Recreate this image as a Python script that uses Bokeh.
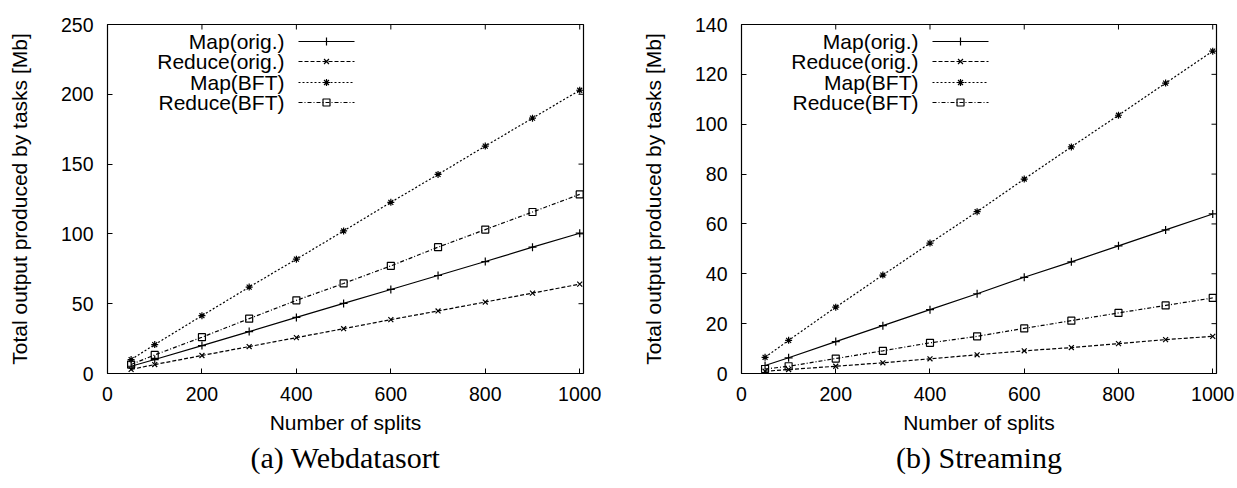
from bokeh.plotting import figure
from bokeh.layouts import row
from bokeh.models import Range1d, FixedTicker, Title
from bokeh.embed import file_html
from bokeh.resources import INLINE
from bokeh.core.properties import value

# ---- data -------------------------------------------------------------
splits = [50, 100, 200, 300, 400, 500, 600, 700, 800, 900, 1000]
x_ticks = [0, 200, 400, 600, 800, 1000]
series_names = ["Map(orig.)", "Reduce(orig.)", "Map(BFT)", "Reduce(BFT)"]

# (a) Webdatasort, output in Mb
wds_map_orig = [5.2, 10, 20, 30, 40.2, 50.2, 60.2, 70.2, 80.2, 90.5, 100.5]
wds_reduce_orig = [2.9, 6.4, 12.9, 19.3, 25.7, 32.1, 38.6, 44.8, 51.2, 57.6, 64]
wds_map_bft = [10, 20.7, 41.4, 61.9, 81.9, 102.1, 122.6, 142.6, 162.9, 182.9, 202.9]
wds_reduce_bft = [6.4, 13.3, 26, 39.3, 52.4, 64.5, 77.1, 90.5, 103.1, 115.7, 128.3]
wds_y_ticks = [0, 50, 100, 150, 200, 250]

# (b) Streaming, output in Mb
str_map_orig = [3.2, 6.3, 12.8, 19.2, 25.6, 32, 38.6, 44.8, 51.2, 57.6, 64]
str_reduce_orig = [0.9, 1.6, 2.9, 4.3, 5.9, 7.5, 9.1, 10.4, 12, 13.6, 14.9]
str_map_bft = [6.5, 13.3, 26.6, 39.5, 52.3, 64.9, 78, 90.9, 103.6, 116.5, 129.3]
str_reduce_bft = [1.8, 2.9, 6, 9.1, 12.3, 14.9, 18.1, 21.2, 24.3, 27.3, 30.3]
str_y_ticks = [0, 20, 40, 60, 80, 100, 120, 140]

# ---- styling ------------------------------------------------------------
SANS = "Liberation Sans"
SERIF = "Liberation Serif"
LW = 1.2
DASHES = ["solid", "4 2", "2 2", "4 2 1 2"]
MARKERS = ["cross", "x", "asterisk", "square"]
MARKER_SIZES = [8, 7, 7, 7]
X_END = 1008
FRAME_TOP, FRAME_BOTTOM = 24, 373
HEIGHT = 488
TICK_LEN = 5


def style_axis(ax, ticks):
    ax.ticker = FixedTicker(ticks=ticks)
    ax.axis_line_color = None
    ax.major_tick_in = TICK_LEN
    ax.major_tick_out = 0
    ax.minor_tick_line_color = None
    ax.major_tick_line_color = "black"
    ax.major_tick_line_width = 1
    ax.major_label_text_font = SANS
    ax.major_label_text_color = "black"
    ax.major_label_text_font_size = "19.5px"
    ax.axis_label_text_font = SANS
    ax.axis_label_text_font_size = "21px"
    ax.axis_label_text_font_style = "normal"
    ax.axis_label_text_color = "black"


def panel(width, left, right, y_max, y_ticks, series, caption):
    frame_w = width - left - right
    frame_h = FRAME_BOTTOM - FRAME_TOP
    p = figure(width=width, height=HEIGHT,
               x_range=Range1d(0, X_END), y_range=Range1d(0, y_max),
               output_backend="svg", toolbar_location=None,
               min_border_left=left, min_border_right=right,
               min_border_top=FRAME_TOP, min_border_bottom=HEIGHT - FRAME_BOTTOM,
               x_axis_label="Number of splits",
               y_axis_label="Total output produced by tasks [Mb]")
    p.title.visible = False
    p.grid.visible = False
    p.outline_line_color = "black"
    p.outline_line_width = 1.2
    p.outline_line_alpha = 1
    p.background_fill_color = "white"
    p.border_fill_color = "white"

    style_axis(p.xaxis[0], x_ticks)
    style_axis(p.yaxis[0], y_ticks)
    p.xaxis[0].major_label_standoff = 13
    p.xaxis[0].axis_label_standoff = 7
    p.yaxis[0].major_label_standoff = 14
    p.yaxis[0].axis_label_standoff = 27

    def dx(px):
        return px / frame_w * X_END

    def dy(py):
        return y_max * (1 - py / frame_h)

    # mirrored tick marks on the top and right edges of the frame
    p.segment(x0=x_ticks, x1=x_ticks, y0=[y_max] * len(x_ticks),
              y1=[dy(TICK_LEN)] * len(x_ticks), line_color="black", line_width=1)
    p.segment(x0=[X_END] * len(y_ticks), x1=[X_END - dx(TICK_LEN)] * len(y_ticks),
              y0=y_ticks, y1=y_ticks, line_color="black", line_width=1)

    # data series
    for ys, dash, mk, ms in zip(series, DASHES, MARKERS, MARKER_SIZES):
        p.line(splits, ys, line_color="black", line_width=LW, line_dash=dash)
        p.scatter(splits, ys, marker=mk, size=ms, line_color="black",
                  fill_color=None, line_width=LW)

    # key in the upper left: label right-aligned, then line sample with marker
    rows_px = [17, 37, 58, 78]
    text_right, line_l, line_r, mark_x = 177, 191, 247, 219
    p.text(x=[dx(text_right)] * 4, y=[dy(r) for r in rows_px],
           text=series_names, text_align="right", text_baseline="middle",
           text_font=value(SANS), text_font_size="21px", text_color="black")
    for r, dash, mk, ms in zip(rows_px, DASHES, MARKERS, MARKER_SIZES):
        p.line([dx(line_l), dx(line_r)], [dy(r), dy(r)], line_color="black",
               line_width=LW, line_dash=dash)
        p.scatter([dx(mark_x)], [dy(r)], marker=mk, size=ms,
                  line_color="black", fill_color=None, line_width=LW)

    cap = Title(text=caption, align="center", text_font=SERIF,
                text_font_size="30px", text_font_style="normal",
                text_color="black", standoff=5)
    p.add_layout(cap, "below")
    return p


left = panel(618, 107, 35, 250, wds_y_ticks,
             [wds_map_orig, wds_reduce_orig, wds_map_bft, wds_reduce_bft],
             "(a) Webdatasort")
right = panel(619, 123, 21, 140, str_y_ticks,
              [str_map_orig, str_reduce_orig, str_map_bft, str_reduce_bft],
              "(b) Streaming")

layout = row(left, right)
open("out.html", "w").write(file_html(layout, INLINE))
